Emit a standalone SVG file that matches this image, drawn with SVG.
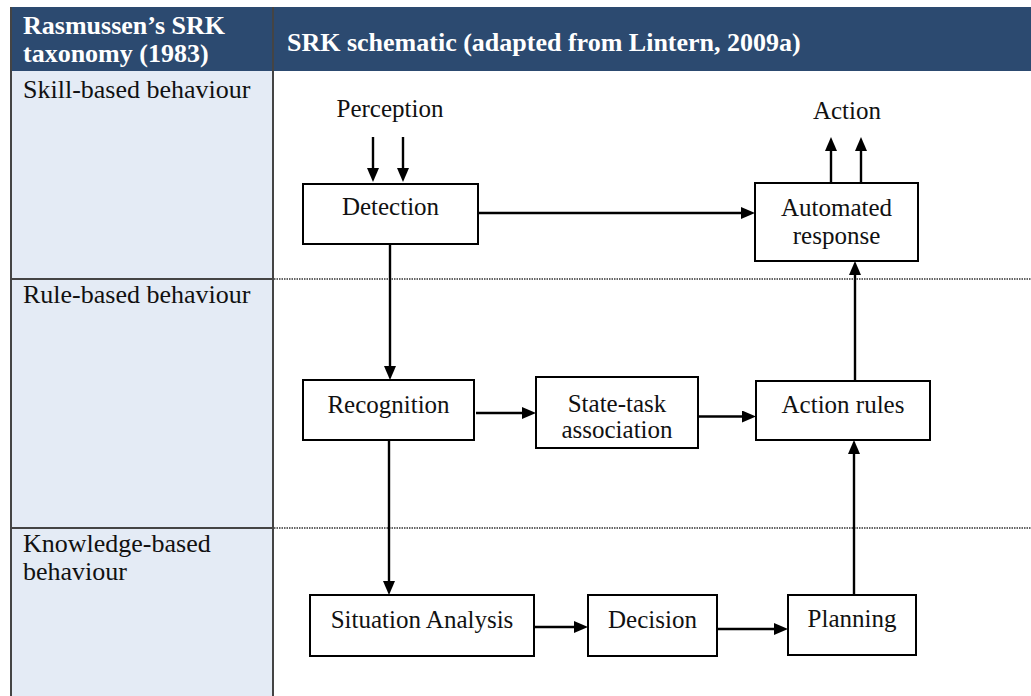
<svg xmlns="http://www.w3.org/2000/svg" width="1031" height="696" viewBox="0 0 1031 696">
  <defs>
    <marker id="arrow" markerUnits="userSpaceOnUse" markerWidth="14" markerHeight="12" viewBox="0 0 14 12" refX="1" refY="6" orient="auto">
      <path d="M0,0 L14,6 L0,12 Z" fill="#000"/>
    </marker>
    <style>
      .hdr { fill: #2C4A70; }
      .col { fill: #E4EBF5; }
      .rule { stroke: #444; stroke-width: 2; fill: none; }
      .dots { stroke: #333; stroke-width: 1.3; stroke-dasharray: 1.5 1; fill: none; }
      .htxt { font-family: "Liberation Serif", "Times New Roman", serif; font-size: 26px; font-weight: bold; fill: #fff; }
      .ltxt { font-family: "Liberation Serif", "Times New Roman", serif; font-size: 26px; fill: #111; }
      .box { fill: #fff; stroke: #000; stroke-width: 2; }
      .ntxt { font-family: "Liberation Serif", "Times New Roman", serif; font-size: 25px; fill: #111; text-anchor: middle; }
      .edge { stroke: #000; stroke-width: 2.4; fill: none; marker-end: url(#arrow); }
    </style>
  </defs>

  <rect width="1031" height="696" fill="#fff"/>

  <!-- table frame -->
  <g id="table">
    <rect class="hdr" x="10" y="7" width="1021" height="64"/>
    <rect class="col" x="10" y="71" width="263" height="625"/>
    <line class="rule" x1="11" y1="7" x2="11" y2="696"/>
    <line class="rule" x1="273" y1="7" x2="273" y2="696"/>
    <line class="rule" x1="10" y1="279" x2="273" y2="279"/>
    <line class="rule" x1="10" y1="528" x2="273" y2="528"/>
    <line class="dots" x1="274" y1="279" x2="1031" y2="279"/>
    <line class="dots" x1="274" y1="528" x2="1031" y2="528"/>
    <text class="htxt" x="23" y="34">Rasmussen’s SRK</text>
    <text class="htxt" x="23" y="62">taxonomy (1983)</text>
    <text class="htxt" x="287" y="51">SRK schematic (adapted from Lintern, 2009a)</text>
    <text class="ltxt" x="23" y="98">Skill-based behaviour</text>
    <text class="ltxt" x="23" y="303">Rule-based behaviour</text>
    <text class="ltxt" x="23" y="552">Knowledge-based</text>
    <text class="ltxt" x="23" y="580">behaviour</text>
  </g>

  <!-- free labels -->
  <g id="perception"><text class="ntxt" x="390" y="117">Perception</text></g>
  <g id="action"><text class="ntxt" x="847" y="119">Action</text></g>

  <!-- nodes -->
  <g id="detection">
    <rect class="box" x="303" y="184" width="175" height="60"/>
    <text class="ntxt" x="390.5" y="215">Detection</text>
  </g>
  <g id="automated-response">
    <rect class="box" x="755" y="183" width="163" height="78"/>
    <text class="ntxt" x="836.5" y="216">Automated</text>
    <text class="ntxt" x="836.5" y="244">response</text>
  </g>
  <g id="recognition">
    <rect class="box" x="303" y="380" width="171" height="60"/>
    <text class="ntxt" x="388.5" y="413">Recognition</text>
  </g>
  <g id="state-task">
    <rect class="box" x="536" y="377" width="162" height="71"/>
    <text class="ntxt" x="617" y="412">State-task</text>
    <text class="ntxt" x="617" y="438">association</text>
  </g>
  <g id="action-rules">
    <rect class="box" x="756" y="381" width="174" height="59"/>
    <text class="ntxt" x="843" y="413">Action rules</text>
  </g>
  <g id="situation-analysis">
    <rect class="box" x="310" y="595" width="224" height="61"/>
    <text class="ntxt" x="422" y="628">Situation Analysis</text>
  </g>
  <g id="decision">
    <rect class="box" x="588" y="595" width="129" height="61"/>
    <text class="ntxt" x="652.5" y="628">Decision</text>
  </g>
  <g id="planning">
    <rect class="box" x="788" y="595" width="128" height="60"/>
    <text class="ntxt" x="852" y="627">Planning</text>
  </g>

  <!-- connectors -->
  <g id="connectors">
    <path class="edge" d="M373,137 V169"/>
    <path class="edge" d="M403,137 V169"/>
    <path class="edge" d="M831,182 V150"/>
    <path class="edge" d="M861,182 V150"/>
    <path class="edge" d="M478,213 H742"/>
    <path class="edge" d="M390,244 V367"/>
    <path class="edge" d="M476,413 H523"/>
    <path class="edge" d="M698,416.5 H743"/>
    <path class="edge" d="M855,381 V274"/>
    <path class="edge" d="M389,440 V582"/>
    <path class="edge" d="M534,627 H575"/>
    <path class="edge" d="M717,629 H775"/>
    <path class="edge" d="M854,595 V453"/>
  </g>
</svg>
